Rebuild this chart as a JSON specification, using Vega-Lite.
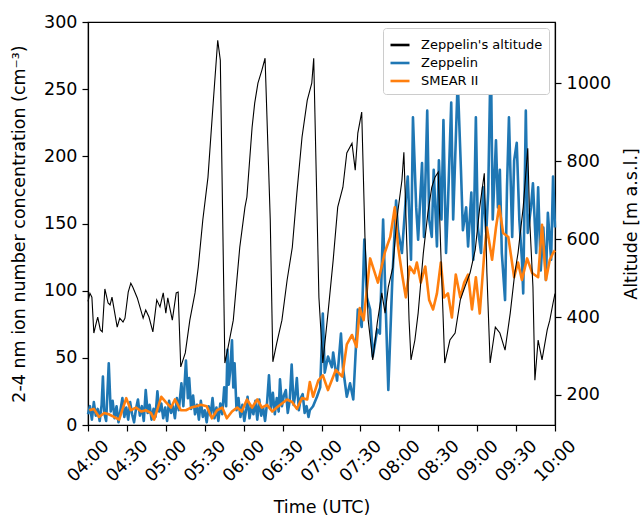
{
"width": 467, "height": 403,
"autosize": {"type": "none"},
"padding": {"left": 88, "top": 22, "right": 86, "bottom": 90},
"config": {
 "font": "DejaVu Sans",
 "view": {"stroke": "black", "strokeWidth": 1.2},
 "axis": {"grid": false, "domainColor": "black", "domainWidth": 1.2, "tickColor": "black", "tickSize": 6, "tickWidth": 1.2, "labelFontSize": 17.5, "labelColor": "black", "labelPadding": 5, "titleFontSize": 17.5, "titleFontWeight": "normal", "titleColor": "black"},
 "legend": {"orient": "top-right", "offset": 6, "padding": 6, "strokeColor": "#cccccc", "fillColor": "#ffffff", "cornerRadius": 3, "labelFontSize": 13, "labelColor": "black", "labelLimit": 300, "symbolSize": 361, "symbolStrokeWidth": 2.6, "rowPadding": 0, "labelOffset": 10}
},
"layer": [
   {
    "data": {"format": {"parse": {"time": "date:'%H:%M:%S'"}}, "values": [
{"time":"04:00:00","conc":8},{"time":"04:01:30","conc":14},{"time":"04:03:00","conc":4},{"time":"04:04:30","conc":17},{"time":"04:06:00","conc":7},{"time":"04:07:30","conc":12},{"time":"04:09:00","conc":3},{"time":"04:10:30","conc":15},{"time":"04:11:30","conc":36},{"time":"04:12:30","conc":9},{"time":"04:14:00","conc":3},{"time":"04:16:00","conc":46},{"time":"04:17:30","conc":10},{"time":"04:19:00","conc":18},{"time":"04:20:30","conc":5},{"time":"04:22:00","conc":14},{"time":"04:23:30","conc":2},{"time":"04:25:00","conc":11},{"time":"04:26:30","conc":20},{"time":"04:28:00","conc":6},{"time":"04:29:30","conc":13},{"time":"04:31:00","conc":4},{"time":"04:32:30","conc":17},{"time":"04:34:00","conc":8},{"time":"04:35:30","conc":2},{"time":"04:37:00","conc":12},{"time":"04:38:30","conc":19},{"time":"04:40:00","conc":7},{"time":"04:41:30","conc":14},{"time":"04:43:00","conc":3},{"time":"04:44:30","conc":26},{"time":"04:46:00","conc":9},{"time":"04:47:30","conc":15},{"time":"04:49:00","conc":4},{"time":"04:50:30","conc":12},{"time":"04:52:00","conc":6},{"time":"04:53:30","conc":25},{"time":"04:55:00","conc":10},{"time":"04:56:30","conc":16},{"time":"04:58:00","conc":5},{"time":"04:59:30","conc":13},
{"time":"05:01:00","conc":3},{"time":"05:02:30","conc":18},{"time":"05:04:00","conc":9},{"time":"05:05:30","conc":14},{"time":"05:07:00","conc":5},{"time":"05:08:30","conc":20},{"time":"05:10:00","conc":11},{"time":"05:12:00","conc":31},{"time":"05:13:30","conc":14},{"time":"05:15:30","conc":48},{"time":"05:17:00","conc":20},{"time":"05:18:00","conc":35},{"time":"05:19:30","conc":12},{"time":"05:21:00","conc":22},{"time":"05:22:30","conc":8},{"time":"05:24:00","conc":15},{"time":"05:25:30","conc":4},{"time":"05:27:00","conc":18},{"time":"05:28:30","conc":6},{"time":"05:30:00","conc":11},{"time":"05:31:30","conc":2},{"time":"05:33:00","conc":14},{"time":"05:34:30","conc":7},{"time":"05:36:00","conc":20},{"time":"05:37:30","conc":5},{"time":"05:39:00","conc":13},{"time":"05:40:30","conc":3},{"time":"05:42:00","conc":16},{"time":"05:43:30","conc":8},{"time":"05:45:00","conc":28},{"time":"05:46:30","conc":14},{"time":"05:47:30","conc":56},{"time":"05:48:30","conc":30},{"time":"05:49:30","conc":39},{"time":"05:51:00","conc":63},{"time":"05:52:00","conc":28},{"time":"05:53:00","conc":46},{"time":"05:54:30","conc":11},{"time":"05:56:00","conc":20},{"time":"05:57:30","conc":6},{"time":"05:59:00","conc":15},
{"time":"06:00:30","conc":3},{"time":"06:02:00","conc":12},{"time":"06:03:00","conc":21},{"time":"06:04:30","conc":5},{"time":"06:06:00","conc":14},{"time":"06:07:30","conc":8},{"time":"06:09:00","conc":18},{"time":"06:10:30","conc":4},{"time":"06:12:00","conc":19},{"time":"06:13:30","conc":7},{"time":"06:15:00","conc":13},{"time":"06:16:30","conc":3},{"time":"06:18:00","conc":16},{"time":"06:19:30","conc":37},{"time":"06:21:00","conc":12},{"time":"06:22:30","conc":24},{"time":"06:24:00","conc":8},{"time":"06:25:30","conc":20},{"time":"06:27:00","conc":10},{"time":"06:28:00","conc":34},{"time":"06:29:30","conc":14},{"time":"06:31:00","conc":22},{"time":"06:32:30","conc":26},{"time":"06:34:00","conc":9},{"time":"06:35:30","conc":18},{"time":"06:37:00","conc":45},{"time":"06:38:30","conc":15},{"time":"06:40:00","conc":24},{"time":"06:41:00","conc":35},{"time":"06:42:30","conc":11},{"time":"06:44:00","conc":20},{"time":"06:45:30","conc":23},{"time":"06:47:00","conc":9},{"time":"06:48:30","conc":14},{"time":"06:50:00","conc":6},{"time":"06:51:00","conc":11},{"time":"06:53:30","conc":14},{"time":"06:56:30","conc":21},{"time":"06:59:00","conc":28},
{"time":"07:01:00","conc":83},{"time":"07:02:30","conc":39},{"time":"07:05:00","conc":51},{"time":"07:08:00","conc":43},{"time":"07:09:00","conc":54},{"time":"07:12:00","conc":33},{"time":"07:15:00","conc":68},{"time":"07:16:30","conc":43},{"time":"07:19:30","conc":21},{"time":"07:22:00","conc":31},{"time":"07:24:30","conc":19},{"time":"07:28:00","conc":86},{"time":"07:31:00","conc":73},{"time":"07:33:00","conc":138},{"time":"07:35:00","conc":95},{"time":"07:37:30","conc":86},{"time":"07:39:30","conc":51},{"time":"07:43:00","conc":71},{"time":"07:45:00","conc":68},{"time":"07:47:30","conc":153},{"time":"07:49:30","conc":88},{"time":"07:51:30","conc":26},{"time":"07:54:30","conc":106},{"time":"07:57:30","conc":167},{"time":"07:59:00","conc":145},
{"time":"08:02:00","conc":128},{"time":"08:04:30","conc":162},{"time":"08:06:30","conc":185},{"time":"08:09:00","conc":123},{"time":"08:10:30","conc":229},{"time":"08:13:00","conc":162},{"time":"08:14:30","conc":138},{"time":"08:17:30","conc":195},{"time":"08:19:00","conc":140},{"time":"08:21:30","conc":234},{"time":"08:23:00","conc":153},{"time":"08:25:00","conc":140},{"time":"08:26:30","conc":190},{"time":"08:29:00","conc":133},{"time":"08:30:30","conc":197},{"time":"08:32:30","conc":153},{"time":"08:34:00","conc":227},{"time":"08:36:00","conc":128},{"time":"08:37:30","conc":165},{"time":"08:40:00","conc":240},{"time":"08:41:30","conc":153},{"time":"08:43:30","conc":212},{"time":"08:45:00","conc":257},{"time":"08:47:30","conc":190},{"time":"08:49:00","conc":145},{"time":"08:51:30","conc":162},{"time":"08:53:00","conc":133},{"time":"08:55:30","conc":173},{"time":"08:57:00","conc":123},{"time":"08:59:00","conc":229},
{"time":"09:00:30","conc":147},{"time":"09:03:00","conc":128},{"time":"09:04:30","conc":177},{"time":"09:07:00","conc":143},{"time":"09:08:30","conc":173},{"time":"09:10:30","conc":281},{"time":"09:12:00","conc":153},{"time":"09:14:30","conc":212},{"time":"09:16:00","conc":162},{"time":"09:17:30","conc":190},{"time":"09:19:00","conc":128},{"time":"09:21:30","conc":93},{"time":"09:23:00","conc":177},{"time":"09:24:30","conc":229},{"time":"09:27:00","conc":140},{"time":"09:28:30","conc":197},{"time":"09:30:30","conc":210},{"time":"09:32:30","conc":153},{"time":"09:34:30","conc":123},{"time":"09:35:30","conc":98},{"time":"09:37:30","conc":234},{"time":"09:39:00","conc":143},{"time":"09:41:30","conc":162},{"time":"09:43:00","conc":180},{"time":"09:45:30","conc":128},{"time":"09:47:00","conc":177},{"time":"09:49:00","conc":115},{"time":"09:51:00","conc":147},{"time":"09:53:00","conc":108},{"time":"09:54:30","conc":158},{"time":"09:57:00","conc":123},{"time":"09:58:30","conc":185},{"time":"10:00:00","conc":147}
    ]},
    "mark": {"type": "line", "strokeWidth": 2.6, "strokeJoin": "round"},
    "encoding": {
     "x": {"field": "time", "type": "temporal",
       "scale": {"domain": [{"year": 1900, "month": 1, "date": 1, "hours": 4}, {"year": 1900, "month": 1, "date": 1, "hours": 10}]},
       "axis": {"title": "Time (UTC)", "format": "%H:%M", "labelAngle": -45, "labelAlign": "center", "labelBaseline": "middle", "labelPadding": 30, "labelOverlap": false, "titleX": 233.5, "titleY": 82, "titleBaseline": "middle", "tickCount": 12}},
     "y": {"field": "conc", "type": "quantitative", "scale": {"domain": [0, 300], "nice": false},
       "axis": {"title": "2-4 nm ion number concentration (cm⁻³)", "values": [0, 50, 100, 150, 200, 250, 300], "titleX": -69, "titleY": 201.5, "titleAngle": -90, "titleAlign": "center", "titleBaseline": "middle"}},
     "color": {"datum": "Zeppelin", "type": "nominal", "scale": {"domain": ["Zeppelin's altitude", "Zeppelin", "SMEAR II"], "range": ["black", "#1f77b4", "#ff7f0e"]}, "legend": {"title": null}}}
   },
   {
    "data": {"format": {"parse": {"time": "date:'%H:%M:%S'"}}, "values": [
{"time":"04:01:00","conc":11},{"time":"04:04:30","conc":12},{"time":"04:08:30","conc":6},{"time":"04:12:30","conc":9},{"time":"04:16:00","conc":8},{"time":"04:20:00","conc":6},{"time":"04:24:00","conc":4},{"time":"04:29:30","conc":20},{"time":"04:33:00","conc":11},{"time":"04:37:00","conc":13},{"time":"04:41:00","conc":10},{"time":"04:44:30","conc":11},{"time":"04:48:30","conc":9},{"time":"04:51:00","conc":4},{"time":"04:56:30","conc":21},
{"time":"05:00:00","conc":17},{"time":"05:04:00","conc":13},{"time":"05:07:00","conc":19},{"time":"05:11:30","conc":11},{"time":"05:15:30","conc":11},{"time":"05:19:30","conc":13},{"time":"05:23:30","conc":14},{"time":"05:27:00","conc":15},{"time":"05:31:30","conc":14},{"time":"05:35:30","conc":5},{"time":"05:39:30","conc":11},{"time":"05:43:30","conc":13},{"time":"05:47:00","conc":5},{"time":"05:51:00","conc":10},{"time":"05:55:00","conc":13},{"time":"05:58:30","conc":10},
{"time":"06:02:30","conc":19},{"time":"06:06:30","conc":13},{"time":"06:10:30","conc":19},{"time":"06:14:00","conc":13},{"time":"06:18:00","conc":15},{"time":"06:22:00","conc":10},{"time":"06:25:30","conc":13},{"time":"06:29:30","conc":16},{"time":"06:33:30","conc":19},{"time":"06:37:30","conc":17},{"time":"06:41:00","conc":12},{"time":"06:45:00","conc":20},{"time":"06:49:00","conc":19},{"time":"06:51:00","conc":32},{"time":"06:53:30","conc":21},{"time":"06:57:30","conc":33},
{"time":"07:01:00","conc":37},{"time":"07:05:00","conc":26},{"time":"07:11:00","conc":41},{"time":"07:16:00","conc":36},{"time":"07:19:30","conc":60},{"time":"07:23:30","conc":67},{"time":"07:27:00","conc":58},{"time":"07:29:30","conc":87},{"time":"07:32:30","conc":78},{"time":"07:37:30","conc":124},{"time":"07:43:30","conc":106},{"time":"07:49:00","conc":129},{"time":"07:53:00","conc":140},{"time":"07:56:30","conc":162},{"time":"07:59:00","conc":133},
{"time":"08:02:00","conc":113},{"time":"08:05:00","conc":95},{"time":"08:08:00","conc":118},{"time":"08:11:30","conc":113},{"time":"08:13:30","conc":121},{"time":"08:16:30","conc":106},{"time":"08:20:00","conc":118},{"time":"08:23:00","conc":93},{"time":"08:26:00","conc":86},{"time":"08:29:00","conc":98},{"time":"08:32:00","conc":121},{"time":"08:34:30","conc":95},{"time":"08:37:30","conc":98},{"time":"08:40:30","conc":80},{"time":"08:43:30","conc":112},{"time":"08:47:00","conc":95},{"time":"08:50:00","conc":106},{"time":"08:53:00","conc":112},{"time":"08:56:00","conc":86},{"time":"08:59:00","conc":110},
{"time":"09:02:00","conc":83},{"time":"09:05:30","conc":128},{"time":"09:07:30","conc":147},{"time":"09:11:30","conc":123},{"time":"09:14:30","conc":147},{"time":"09:17:00","conc":163},{"time":"09:20:00","conc":143},{"time":"09:24:00","conc":140},{"time":"09:28:30","conc":110},{"time":"09:31:30","conc":121},{"time":"09:34:30","conc":108},{"time":"09:38:30","conc":124},{"time":"09:42:30","conc":113},{"time":"09:47:00","conc":110},{"time":"09:50:00","conc":149},{"time":"09:53:00","conc":108},{"time":"09:56:00","conc":123},{"time":"09:58:30","conc":128},{"time":"10:00:00","conc":130}
    ]},
    "mark": {"type": "line", "strokeWidth": 2.6, "strokeJoin": "round"},
    "encoding": {
     "x": {"field": "time", "type": "temporal"},
     "y": {"field": "conc", "type": "quantitative", "scale": {"domain": [0, 300], "nice": false}, "axis": null},
     "color": {"datum": "SMEAR II", "type": "nominal", "scale": {"domain": ["Zeppelin's altitude", "Zeppelin", "SMEAR II"], "range": ["black", "#1f77b4", "#ff7f0e"]}, "legend": {"title": null}}}
   },
 {
  "data": {"format": {"parse": {"time": "date:'%H:%M:%S'"}}, "values": [
{"time":"04:00:00","alt":440},{"time":"04:01:30","alt":461},{"time":"04:03:00","alt":451},{"time":"04:04:30","alt":359},{"time":"04:06:30","alt":387},{"time":"04:07:30","alt":400},{"time":"04:09:30","alt":367},{"time":"04:11:00","alt":362},{"time":"04:13:00","alt":472},{"time":"04:15:30","alt":436},{"time":"04:17:00","alt":431},{"time":"04:18:30","alt":451},{"time":"04:22:30","alt":374},{"time":"04:24:30","alt":397},{"time":"04:27:00","alt":387},{"time":"04:28:30","alt":397},{"time":"04:31:00","alt":464},{"time":"04:33:00","alt":487},{"time":"04:34:30","alt":477},{"time":"04:38:00","alt":449},{"time":"04:40:00","alt":426},{"time":"04:42:30","alt":397},{"time":"04:44:30","alt":418},{"time":"04:47:00","alt":400},{"time":"04:50:00","alt":362},{"time":"04:53:00","alt":444},{"time":"04:55:30","alt":426},{"time":"04:58:00","alt":462},
{"time":"05:00:00","alt":410},{"time":"05:01:30","alt":449},{"time":"05:05:00","alt":392},{"time":"05:08:00","alt":462},{"time":"05:09:30","alt":464},{"time":"05:11:30","alt":272},{"time":"05:15:00","alt":308},{"time":"05:18:30","alt":392},{"time":"05:22:30","alt":462},{"time":"05:25:00","alt":528},{"time":"05:28:30","alt":649},{"time":"05:32:30","alt":759},{"time":"05:36:30","alt":949},{"time":"05:40:00","alt":1110},{"time":"05:42:00","alt":1059},{"time":"05:45:30","alt":282},{"time":"05:48:00","alt":323},{"time":"05:52:00","alt":392},{"time":"05:57:00","alt":579},
{"time":"06:01:00","alt":682},{"time":"06:02:30","alt":708},{"time":"06:06:30","alt":887},{"time":"06:08:30","alt":949},{"time":"06:11:00","alt":1000},{"time":"06:14:00","alt":1033},{"time":"06:16:30","alt":1064},{"time":"06:20:30","alt":649},{"time":"06:22:30","alt":285},{"time":"06:25:30","alt":333},{"time":"06:29:30","alt":392},{"time":"06:33:30","alt":495},{"time":"06:37:30","alt":579},{"time":"06:41:00","alt":718},{"time":"06:45:00","alt":862},{"time":"06:49:00","alt":956},{"time":"06:52:30","alt":1000},{"time":"06:54:00","alt":1064},{"time":"06:58:00","alt":451},
{"time":"07:01:00","alt":282},{"time":"07:05:00","alt":410},{"time":"07:09:00","alt":546},{"time":"07:12:30","alt":682},{"time":"07:16:30","alt":733},{"time":"07:19:30","alt":821},{"time":"07:23:30","alt":846},{"time":"07:26:00","alt":777},{"time":"07:28:00","alt":872},{"time":"07:31:00","alt":926},{"time":"07:33:30","alt":605},{"time":"07:36:00","alt":392},{"time":"07:39:30","alt":290},{"time":"07:43:00","alt":385},{"time":"07:46:30","alt":462},{"time":"07:49:00","alt":410},{"time":"07:51:30","alt":477},{"time":"07:55:00","alt":528},{"time":"07:58:00","alt":649},
{"time":"08:02:00","alt":751},{"time":"08:03:30","alt":823},{"time":"08:06:00","alt":564},{"time":"08:07:30","alt":392},{"time":"08:09:00","alt":290},{"time":"08:12:00","alt":341},{"time":"08:14:30","alt":410},{"time":"08:18:30","alt":564},{"time":"08:22:00","alt":667},{"time":"08:25:00","alt":733},{"time":"08:27:30","alt":759},{"time":"08:30:00","alt":772},{"time":"08:32:00","alt":564},{"time":"08:35:00","alt":282},{"time":"08:39:00","alt":341},{"time":"08:43:00","alt":359},{"time":"08:47:00","alt":444},{"time":"08:50:30","alt":477},{"time":"08:54:30","alt":513},{"time":"08:58:30","alt":572},
{"time":"09:02:00","alt":682},{"time":"09:05:30","alt":769},{"time":"09:07:30","alt":513},{"time":"09:10:00","alt":282},{"time":"09:14:00","alt":374},{"time":"09:17:30","alt":359},{"time":"09:21:30","alt":315},{"time":"09:25:30","alt":410},{"time":"09:29:00","alt":513},{"time":"09:31:30","alt":564},{"time":"09:35:30","alt":682},{"time":"09:39:00","alt":833},{"time":"09:40:30","alt":649},{"time":"09:43:00","alt":477},{"time":"09:44:30","alt":238},{"time":"09:47:00","alt":341},{"time":"09:50:00","alt":290},{"time":"09:54:00","alt":367},{"time":"09:56:00","alt":392},{"time":"09:58:30","alt":436},{"time":"10:00:00","alt":460}
  ]},
  "mark": {"type": "line", "strokeWidth": 1.1},
  "encoding": {
   "x": {"field": "time", "type": "temporal"},
   "y": {"field": "alt", "type": "quantitative", "scale": {"domain": [123, 1157], "nice": false, "zero": false},
     "axis": {"orient": "right", "title": "Altitude [m a.s.l.]", "format": "d", "values": [200, 400, 600, 800, 1000], "titleX": 76, "titleY": 201.5, "titleAngle": -90, "titleAlign": "center", "titleBaseline": "middle"}},
   "color": {"datum": "Zeppelin's altitude", "type": "nominal", "scale": {"domain": ["Zeppelin's altitude", "Zeppelin", "SMEAR II"], "range": ["black", "#1f77b4", "#ff7f0e"]}, "legend": {"title": null}}
  }
 }
],
"resolve": {"scale": {"y": "independent"}}
}
